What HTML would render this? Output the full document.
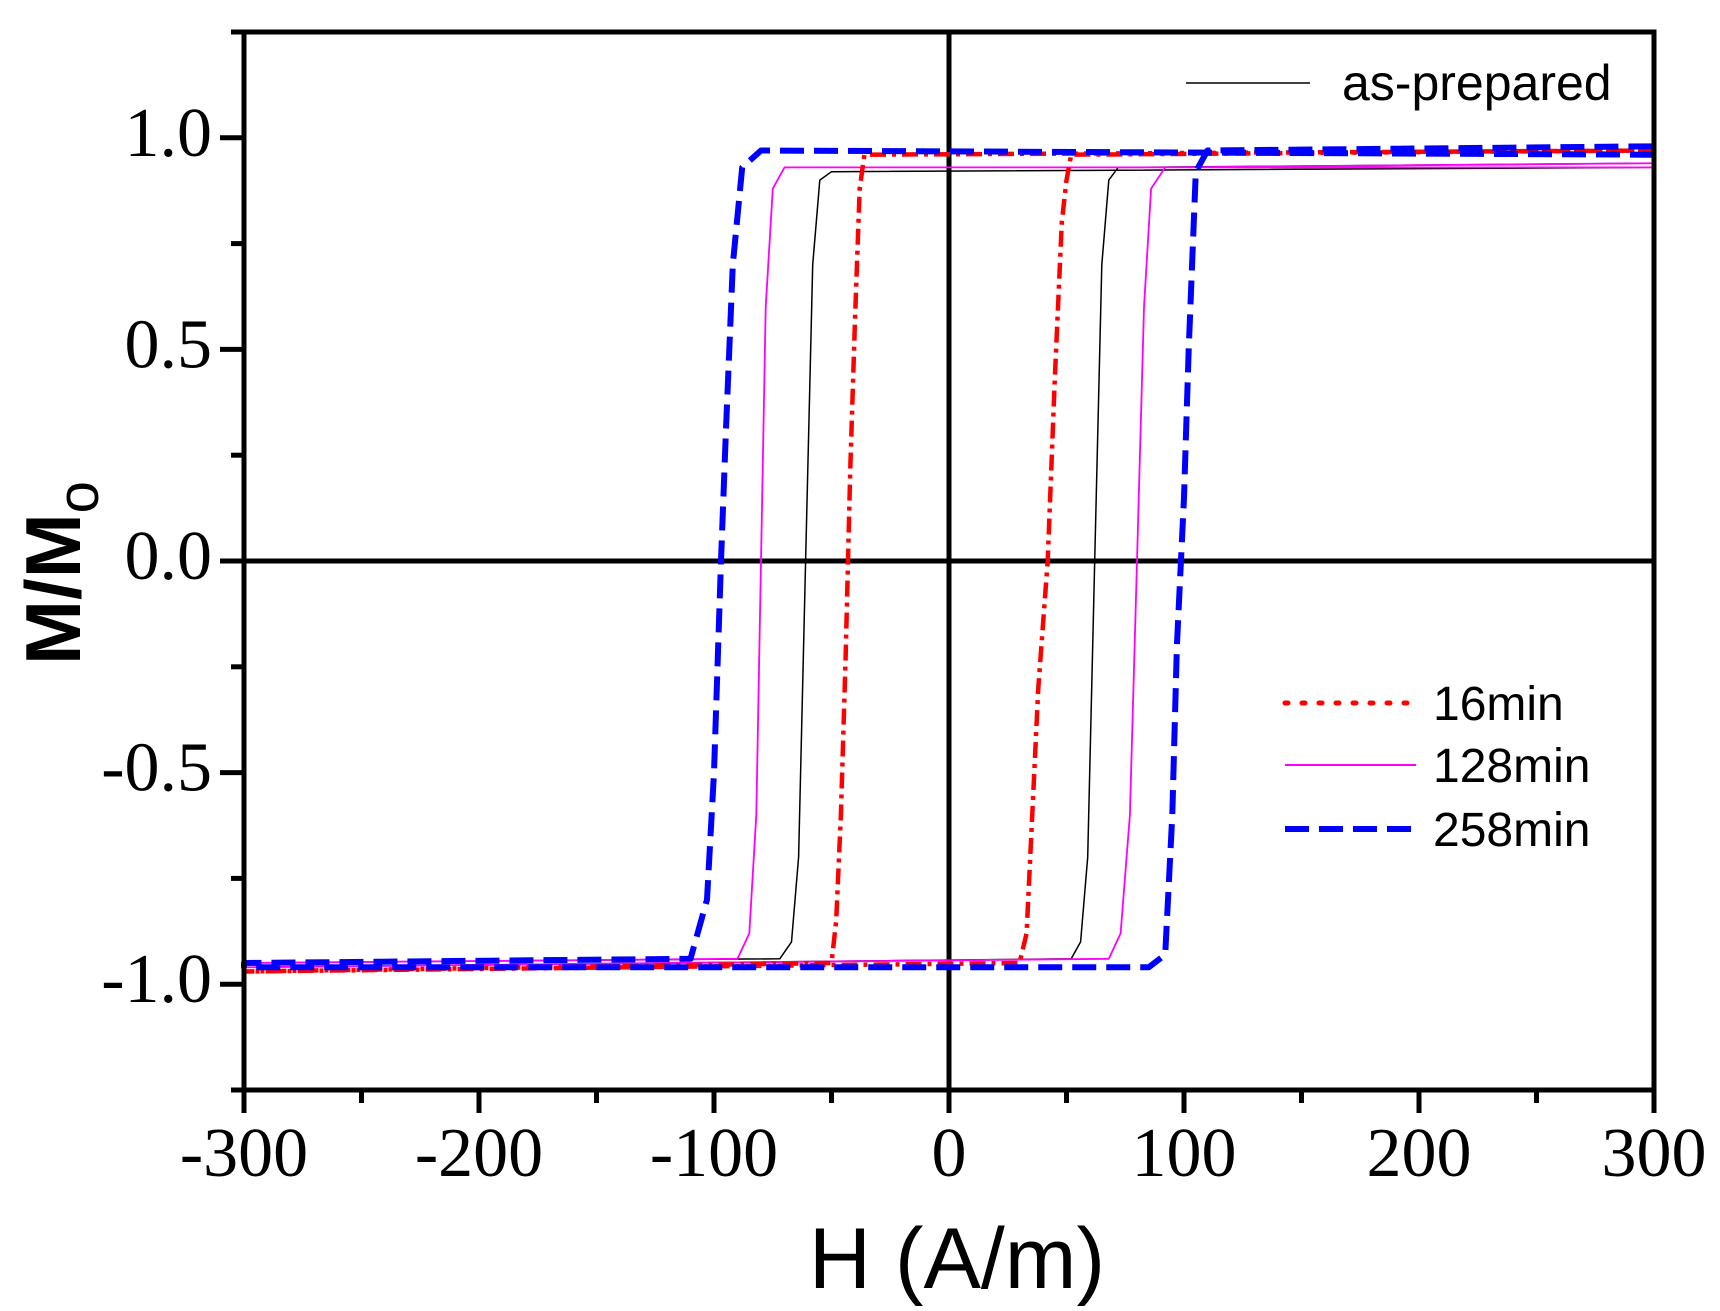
<!DOCTYPE html>
<html><head><meta charset="utf-8"><style>
html,body{margin:0;padding:0;background:#fff;}
svg{display:block;}
</style></head><body>
<svg id="chart" width="1720" height="1311" viewBox="0 0 1720 1311" xmlns="http://www.w3.org/2000/svg">
<g id="marks"></g>
<g id="axes"></g>
</svg>
<script>
const xTicks = [-300,-200,-100,0,100,200,300];
const xMinor = [-250,-150,-50,50,150,250];
const yTicks = [-1.0,-0.5,0.0,0.5,1.0];
const yTickLabels = ["-1.0","-0.5","0.0","0.5","1.0"];
const yMinor = [-1.25,-0.75,-0.25,0.25,0.75,1.25];

const asPrepH = [300,-50,-55,-58,-61,-64,-67,-72,-300,-300,52,56,59,62,65,68,72,300];
const asPrepM = [0.93,0.92,0.90,0.70,0,-0.70,-0.90,-0.94,-0.95,-0.96,-0.94,-0.90,-0.70,0,0.70,0.90,0.93,0.94];
const m16H = [300,-36,-38,-40,-42,-44,-46,-48,-50,-300,-300,30,33,38,42,45,48,50,52,300];
const m16M = [0.97,0.96,0.88,0.57,0.22,-0.23,-0.60,-0.85,-0.95,-0.97,-0.97,-0.95,-0.88,-0.30,0,0.43,0.80,0.90,0.96,0.97];
const m128H = [300,-70,-75,-78,-80,-82,-85,-90,-300,-300,68,73,77,80,83,86,92,300];
const m128M = [0.93,0.93,0.88,0.60,0,-0.60,-0.88,-0.94,-0.95,-0.96,-0.94,-0.88,-0.60,0,0.60,0.88,0.93,0.94];
const m258H = [300,-80,-88,-92,-95,-97,-100,-103,-110,-300,-300,85,92,95,97,100,102,105,110,300];
const m258M = [0.96,0.97,0.93,0.70,0.30,0,-0.50,-0.80,-0.94,-0.95,-0.96,-0.96,-0.93,-0.60,-0.20,0.15,0.50,0.92,0.97,0.98];

const L=244,R=1654,T=32,B=1090;
const sx=v=>L+(v+300)/600*(R-L);
const sy=v=>B-(v+1.25)/2.5*(B-T);
const NS="http://www.w3.org/2000/svg";
const marks=document.getElementById('marks'), axes=document.getElementById('axes');
function mk(tag,attrs,parent){const e=document.createElementNS(NS,tag);for(const k in attrs)e.setAttribute(k,attrs[k]);parent.appendChild(e);return e;}

let c1=mk('line',{x1:sx(0),x2:sx(0),y1:T,y2:B,stroke:'#000','stroke-width':5},marks);


let c2=mk('line',{x1:L,x2:R,y1:sy(0),y2:sy(0),stroke:'#000','stroke-width':5},marks);



function series(H,M,color,w,dash,name){
  const d=H.map((h,i)=>(i?'L':'M')+sx(h).toFixed(1)+' '+sy(M[i]).toFixed(1)).join(' ');
  const p=mk('path',{d:d,fill:'none',stroke:color,'stroke-width':w,'stroke-dasharray':dash,'stroke-linejoin':'round'},marks);
  
  
}
series(asPrepH,asPrepM,'#000',1.5,'none','as-prepared-loop');
series(m128H,m128M,'#ff00ff',1.8,'none','128min-loop');
series(m16H,m16M,'#ff0000',4.5,'16 6 4 6','16min-loop');
series(m258H,m258M,'#0000ff',6,'24 10','258min-loop');

let fr=mk('rect',{x:L,y:T,width:R-L,height:B-T,fill:'none',stroke:'#000','stroke-width':5},axes);



xTicks.forEach(v=>{
  let t=mk('line',{x1:sx(v),x2:sx(v),y1:B,y2:B+23,stroke:'#000','stroke-width':5},axes);
  
  
  let tx=mk('text',{x:sx(v),y:1176,'text-anchor':'middle','font-family':'Liberation Serif, serif','font-size':70},axes);
  tx.textContent=String(v);
  
  
});
xMinor.forEach(v=>{
  let t=mk('line',{x1:sx(v),x2:sx(v),y1:B,y2:B+13,stroke:'#000','stroke-width':5},axes);
  
  
});
yTicks.forEach((v,i)=>{
  let t=mk('line',{x1:L-24,x2:L,y1:sy(v),y2:sy(v),stroke:'#000','stroke-width':5},axes);
  
  
  let tx=mk('text',{x:212,y:sy(v)+18,'text-anchor':'end','font-family':'Liberation Serif, serif','font-size':70},axes);
  tx.textContent=yTickLabels[i];
  
  
});
yMinor.forEach(v=>{
  let t=mk('line',{x1:L-13,x2:L,y1:sy(v),y2:sy(v),stroke:'#000','stroke-width':5},axes);
  
  
});

let xt=mk('text',{x:957,y:1288,'text-anchor':'middle','font-family':'Liberation Sans, sans-serif','font-size':86},axes);
xt.textContent='H (A/m)';


let yt=mk('text',{x:0,y:0,'text-anchor':'middle','font-family':'Liberation Sans, sans-serif','font-size':78,'font-weight':'bold',transform:'translate(80,573) rotate(-90)'},axes);
yt.innerHTML='M/M<tspan font-size="58" font-weight="normal" dy="18">o</tspan>';



const leg=[['as-prepared','#000',1.5,'none',1186,1310,83,1342,50],
 ['16min','#ff0000',5,'3 14',1285,1416,703,1433,48],
 ['128min','#ff00ff',2,'none',1285,1416,765,1433,48],
 ['258min','#0000ff',6,'24 10',1285,1416,829,1433,48]];
leg.forEach(l=>{
  let g=mk('g',{},axes);
  
  
  mk('line',{x1:l[4],x2:l[5],y1:l[6],y2:l[6],stroke:l[1],'stroke-width':l[2],'stroke-dasharray':l[3],'stroke-linecap':l[3]==='3 14'?'round':'butt'},g);
  let t=mk('text',{x:l[7],y:l[6]+17,'font-family':'Liberation Sans, sans-serif','font-size':l[8]},g);
  t.textContent=l[0];
});
</script>
</body></html>
